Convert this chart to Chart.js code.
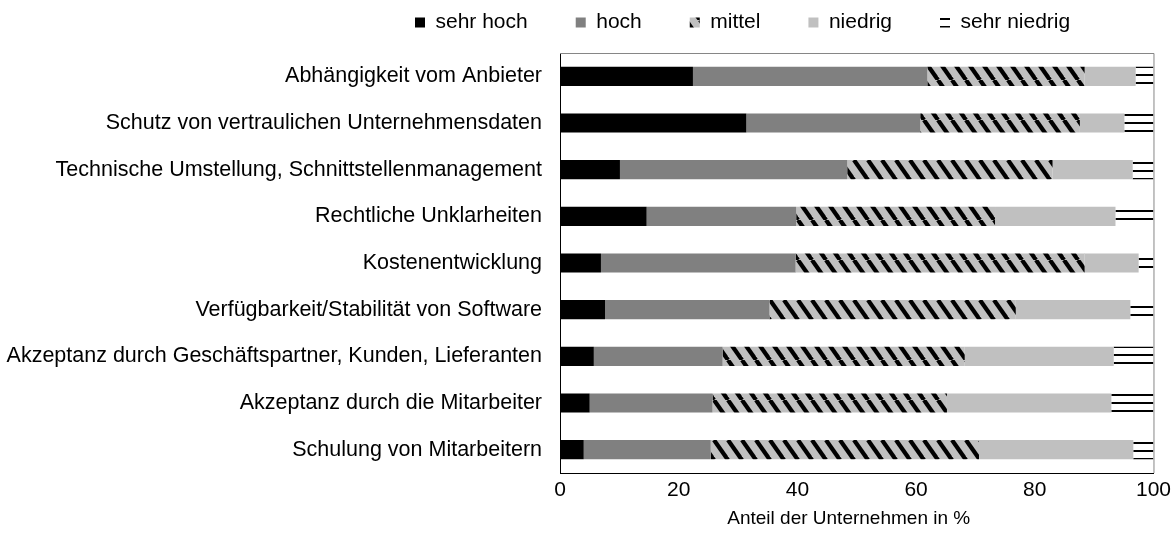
<!DOCTYPE html>
<html>
<head>
<meta charset="utf-8">
<script src="https://cdn.jsdelivr.net/npm/chart.js@4.4.0/dist/chart.umd.min.js"></script>
<style>
  html, body { margin: 0; padding: 0; background: #fff; }
</style>
</head>
<body>
<canvas id="chart" width="1176" height="535"></canvas>
<script>
// categories, top to bottom
const categories = [
  'Abhängigkeit vom Anbieter',
  'Schutz von vertraulichen Unternehmensdaten',
  'Technische Umstellung, Schnittstellenmanagement',
  'Rechtliche Unklarheiten',
  'Kostenentwicklung',
  'Verfügbarkeit/Stabilität von Software',
  'Akzeptanz durch Geschäftspartner, Kunden, Lieferanten',
  'Akzeptanz durch die Mitarbeiter',
  'Schulung von Mitarbeitern'
];

// share of companies in %, per rating
const sehrHoch    = [22.4, 31.4, 10.1, 14.6,  6.9,  7.6,  5.7,  5.0,  4.0];
const hoch        = [39.5, 29.3, 38.3, 25.2, 32.8, 27.7, 21.7, 20.7, 21.4];
const mittel      = [26.5, 26.9, 34.6, 33.5, 48.7, 41.5, 40.8, 39.5, 45.2];
const niedrig     = [ 8.6,  7.5, 13.5, 20.3,  9.1, 19.3, 25.1, 27.7, 26.0];
const sehrNiedrig = [ 3.0,  4.9,  3.5,  6.4,  2.5,  3.9,  6.7,  7.1,  3.4];

const xMin = 0, xMax = 100, xStep = 20;
const xTitle = 'Anteil der Unternehmen in %';

const FONT = "'Liberation Sans', Arial, sans-serif";

// diagonal hatch for "mittel"
function hatchPattern() {
  const c = document.createElement('canvas');
  c.width = 14; c.height = 20;
  const g = c.getContext('2d');
  g.fillStyle = '#c0c0c0';
  g.fillRect(0, 0, 14, 20);
  g.strokeStyle = '#000';
  g.lineWidth = 4.2;
  for (const dx of [-14, 0, 14]) {
    g.beginPath();
    g.moveTo(dx, 0);
    g.lineTo(dx + 14, 20);
    g.stroke();
  }
  return g.createPattern(c, 'repeat');
}

// horizontal double lines for "sehr niedrig"
function linePattern() {
  const c = document.createElement('canvas');
  c.width = 8; c.height = 8;
  const g = c.getContext('2d');
  g.fillStyle = '#fff';
  g.fillRect(0, 0, 8, 8);
  g.fillStyle = '#000';
  g.fillRect(0, 2, 8, 2);
  return g.createPattern(c, 'repeat');
}

// frame (top/right grey), legend placement, axis title
const frameAndLegend = {
  id: 'frameAndLegend',
  beforeDraw(chart) {
    const lg = chart.legend;
    if (!lg) return;
    const pad = lg.options.labels.padding;
    lg.left = 415 - pad;
    lg.top = 12 - pad;
  },
  afterDatasetsDraw(chart) {
    const { ctx, chartArea: a } = chart;
    ctx.save();
    ctx.strokeStyle = '#868686';
    ctx.lineWidth = 1;
    ctx.beginPath();
    ctx.moveTo(a.left, a.top + 0.5);
    ctx.lineTo(a.right + 0.5, a.top + 0.5);
    ctx.lineTo(a.right + 0.5, a.bottom);
    ctx.stroke();
    ctx.restore();
  },
  afterDraw(chart) {
    const { ctx, chartArea: a } = chart;
    ctx.save();
    ctx.fillStyle = '#000';
    ctx.font = '19px ' + FONT;
    ctx.textAlign = 'center';
    ctx.textBaseline = 'middle';
    ctx.fillText(xTitle, (a.left + a.right) / 2 - 8, a.bottom + 46);
    ctx.restore();
  }
};

new Chart(document.getElementById('chart'), {
  type: 'bar',
  data: {
    labels: categories,
    datasets: [
      { label: 'sehr hoch', data: sehrHoch, backgroundColor: '#000000' },
      { label: 'hoch', data: hoch, backgroundColor: '#808080' },
      { label: 'mittel', data: mittel, backgroundColor: hatchPattern() },
      { label: 'niedrig', data: niedrig, backgroundColor: '#c0c0c0' },
      { label: 'sehr niedrig', data: sehrNiedrig, backgroundColor: linePattern() }
    ]
  },
  options: {
    indexAxis: 'y',
    responsive: false,
    devicePixelRatio: 1,
    animation: false,
    layout: { padding: { top: 0, right: 21, bottom: 0, left: 0 } },
    datasets: {
      bar: { barPercentage: 0.41, categoryPercentage: 1.0, borderWidth: 0 }
    },
    plugins: {
      legend: {
        position: 'top',
        align: 'start',
        maxHeight: 53,
        labels: {
          font: { family: FONT, size: 21 },
          color: '#000',
          boxWidth: 10,
          boxHeight: 10,
          padding: 48
        }
      },
      tooltip: { enabled: false }
    },
    scales: {
      x: {
        stacked: true,
        min: xMin,
        max: xMax,
        grid: { display: false, drawTicks: false },
        border: { display: true, color: '#000', width: 1 },
        ticks: {
          stepSize: xStep,
          padding: 5,
          color: '#000',
          font: { family: FONT, size: 21 }
        },
        afterFit(scale) { scale.height = 62; }
      },
      y: {
        stacked: true,
        grid: { display: false, drawTicks: false },
        border: { display: true, color: '#000', width: 1 },
        ticks: {
          padding: 18,
          color: '#000',
          font: { family: FONT, size: 21.5 }
        },
        afterFit(scale) { scale.width = 560; }
      }
    }
  },
  plugins: [frameAndLegend]
});
</script>
</body>
</html>
